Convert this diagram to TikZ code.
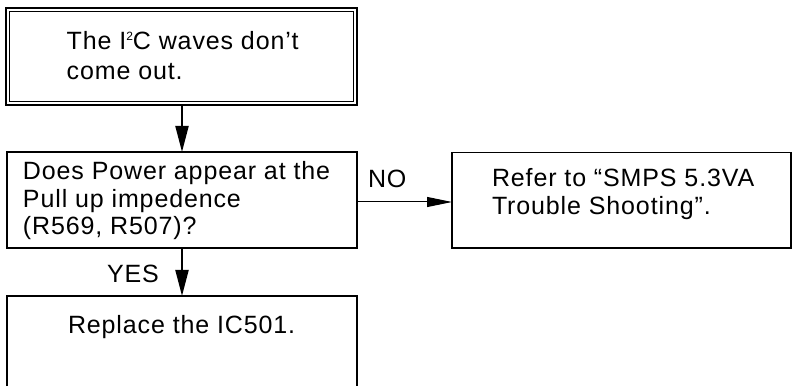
\documentclass[tikz,border=0pt]{standalone}
\usepackage{fontspec}
\setmainfont{Liberation Sans}[LetterSpace=3.5]
\usetikzlibrary{arrows.meta,calc}
\newcommand{\smallsup}[1]{\raisebox{9.3pt}{\fontsize{12}{12}\selectfont #1}}
\tikzset{
  boxnode/.style={draw=black, line width=1.6pt, rectangle, inner sep=0pt, outer sep=0pt},
  txt/.style={anchor=base west, inner sep=0pt, outer sep=0pt, font=\fontsize{25}{28}\selectfont},
  vflow/.style={line width=2pt, -{Triangle[length=26pt,width=13pt]}},
  hflow/.style={line width=1pt, -{Triangle[length=25pt,width=10pt]}}
}
\begin{document}
\begin{tikzpicture}[x=1pt,y=-1pt]
\useasboundingbox (0,0) rectangle (792,387);
% top box (double frame)
\node[boxnode, line width=2.2pt, minimum width=351pt, minimum height=97pt] (t) at (181.5,56.5) {};
\draw[line width=0.8pt] ($(t.north west)+(3.5,3.5)$) rectangle ($(t.south east)+(-3.5,-3.5)$);
\node[txt] (t1) at (66.7,50) {The I\smallsup{2}C waves don’t};
\node[txt] (t2) at (66.7,80) {come out.};
% question box
\node[boxnode, minimum width=350pt, minimum height=96pt] (q) at (182,200) {};
\node[txt] (q1) at (23,180) {Does Power appear at the};
\node[txt] (q2) at (23,207.5) {Pull up impedence};
\node[txt] (q3) at (23,235) {(R569, R507)?};
% right box
\node[boxnode, minimum width=339pt, minimum height=95.5pt] (s) at (621.5,200.3) {};
\node[txt] (s1) at (492,187) {Refer to “SMPS 5.3VA};
\node[txt] (s2) at (492,215) {Trouble Shooting”.};
% bottom box (open at the bottom)
\node[rectangle, inner sep=0pt, outer sep=0pt, minimum width=350pt, minimum height=100pt] (r) at (182,346) {};
\draw[line width=1.8pt] ([yshift=10pt]r.south west) -- (r.north west) -- (r.north east) -- ([yshift=10pt]r.south east);
\node[txt] (r1) at (68,333) {Replace the IC501.};
% connectors
\draw[vflow] (t.south -| q.north) -- (q.north);
\draw[vflow] (q.south) -- (r.north);
\draw[hflow] (q.east |- 0,202) -- (s.west |- 0,202);
\node[txt] (no) at (368,188) {NO};
\node[txt] (yes) at (107,283) {YES};
\end{tikzpicture}
\end{document}
